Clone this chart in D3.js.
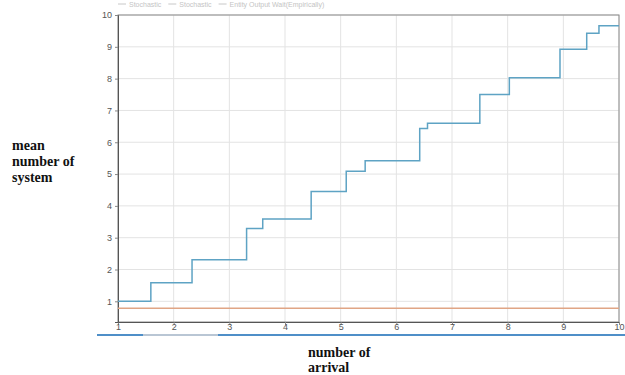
<!DOCTYPE html>
<html><head><meta charset="utf-8">
<script src="https://cdn.jsdelivr.net/npm/d3@7"></script>
<style>body{margin:0;background:#fff}svg{display:block}</style>
</head><body>
<script>
const stepX = [1, 1.59, 2.33, 3.31, 3.6, 4.47, 5.1, 5.44, 6.42, 6.56, 7.5, 8.03, 8.94, 9.42, 9.64, 10];
const stepY = [1.0, 1.58, 2.31, 3.29, 3.59, 4.45, 5.09, 5.42, 6.43, 6.6, 7.5, 8.03, 8.92, 9.43, 9.66, 9.66];
const refX = [1, 10];
const refY = [0.78, 0.78];
const xTicks = [1,2,3,4,5,6,7,8,9,10];
const yTicks = [1,2,3,4,5,6,7,8,9,10];
const legendLabels = ["Stochastic", "Stochastic", "Entity Output Wait(Empirically)"];
const yTitle = ["mean", "number of", "system"];
const xTitle = ["number of", "arrival"];

const W = 625, H = 375;
const svg = d3.select("body").append("svg").attr("width", W).attr("height", H);
const x = d3.scaleLinear().domain([1, 10]).range([118, 619]);
const y = d3.scaleLinear().domain([0.35, 10]).range([322, 15]);

// grid
svg.append("g").selectAll("line").data(xTicks).join("line")
  .attr("x1", d => x(d)).attr("x2", d => x(d)).attr("y1", y(10)).attr("y2", y(0.35))
  .attr("stroke", "#e3e3e3").attr("stroke-width", 1);
svg.append("g").selectAll("line").data(yTicks).join("line")
  .attr("x1", x(1)).attr("x2", x(10)).attr("y1", d => y(d)).attr("y2", d => y(d))
  .attr("stroke", "#e3e3e3").attr("stroke-width", 1);

// border
svg.append("rect").attr("x", x(1)).attr("y", y(10)).attr("width", x(10) - x(1)).attr("height", y(0.35) - y(10))
  .attr("fill", "none").attr("stroke", "#8a8a8a").attr("stroke-width", 1);

// axes
const xa = svg.append("g").attr("transform", `translate(0,${y(0.35)})`)
  .call(d3.axisBottom(x).tickValues(xTicks).tickSize(3).tickFormat(d3.format("d")));
const ya = svg.append("g").attr("transform", `translate(${x(1)},0)`)
  .call(d3.axisLeft(y).tickValues(yTicks).tickSize(3).tickFormat(d3.format("d")));
[xa, ya].forEach(g => {
  g.select(".domain").attr("stroke", "#555");
  g.selectAll(".tick line").attr("stroke", "#888");
  g.selectAll("text").attr("fill", "#555").style("font-family", "Liberation Sans, Arial, sans-serif").style("font-size", "9px");
});
xa.selectAll("text").attr("dy", "0.2em");

// lines
const refData = refX.map((v, i) => [v, refY[i]]);
svg.append("path").datum(refData)
  .attr("d", d3.line().x(d => x(d[0])).y(d => y(d[1])))
  .attr("fill", "none").attr("stroke", "#e0a585").attr("stroke-width", 1.5);
const stepData = stepX.map((v, i) => [v, stepY[i]]);
svg.append("path").datum(stepData)
  .attr("d", d3.line().curve(d3.curveStepAfter).x(d => x(d[0])).y(d => y(d[1])))
  .attr("fill", "none").attr("stroke", "#5ea3c4").attr("stroke-width", 1.5);

// legend (faint, at very top)
let lx = 118;
legendLabels.forEach(t => {
  svg.append("line").attr("x1", lx).attr("x2", lx + 8).attr("y1", 4).attr("y2", 4).attr("stroke", "#c8c8c8");
  const tx = svg.append("text").attr("x", lx + 11).attr("y", 7).text(t)
    .attr("fill", "#c4c4c4").style("font-family", "Liberation Sans, Arial, sans-serif").style("font-size", "7px");
  lx += tx.node().getComputedTextLength() + 18;
});

// bottom scroll line
svg.append("line").attr("x1", 97).attr("x2", 625).attr("y1", 335).attr("y2", 335).attr("stroke", "#4f8fc8").attr("stroke-width", 2);
svg.append("line").attr("x1", 143).attr("x2", 218).attr("y1", 335).attr("y2", 335).attr("stroke", "#b9c6d4").attr("stroke-width", 2);

// titles
const tf = "Liberation Serif, 'Times New Roman', serif";
yTitle.forEach((t, i) => svg.append("text").attr("x", 12).attr("y", 150 + i * 16).text(t)
  .style("font-family", tf).style("font-weight", "bold").style("font-size", "14px").attr("fill", "#111"));
xTitle.forEach((t, i) => svg.append("text").attr("x", 308).attr("y", 357 + i * 15).text(t)
  .style("font-family", tf).style("font-weight", "bold").style("font-size", "14px").attr("fill", "#111"));
</script>
</body></html>
